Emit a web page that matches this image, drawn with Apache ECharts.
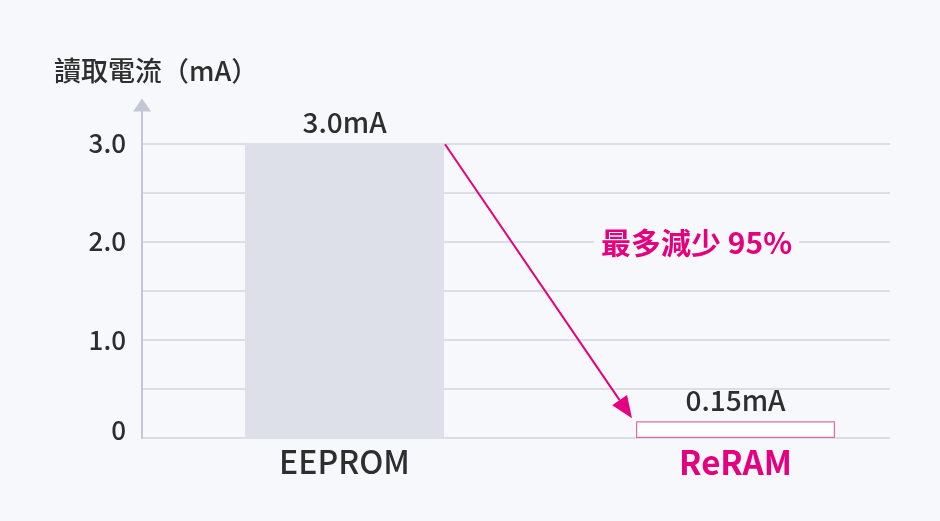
<!DOCTYPE html>
<html><head><meta charset="utf-8">
<script src="https://cdn.jsdelivr.net/npm/echarts@6/dist/echarts.min.js"></script>
<style>html,body{margin:0;padding:0;background:#f7f8fb;}#c{width:940px;height:521px;}</style>
</head><body><div id="c"></div>
<script>
var categories = ['EEPROM', 'ReRAM'];
var values = [3.0, 0.17];
var valueLabels = ['3.0mA', '0.15mA'];
var yTicks = [0, 0.5, 1.0, 1.5, 2.0, 2.5, 3.0];
var yTickLabels = {'0': '0', '1': '1.0', '2': '2.0', '3': '3.0'};
var axisTitle = '讀取電流（mA）';
var noteText = '最多減少 95%';
var noteAtValue = 2.0;

var FONT = '"Noto Sans CJK TC","Noto Sans",sans-serif';
var MAG = '#e4007f';
var TXT = '#2e2e2e';
var chart = echarts.init(document.getElementById('c'));
var yMax = 3.4;
var gridTop = 104, gridBottom = 83;
chart.setOption({
  backgroundColor: '#f7f8fb',
  animation: false,
  title: { text: axisTitle, left: 49, top: 52, textStyle: { fontFamily: FONT, fontSize: 27, fontWeight: 500, color: TXT } },
  grid: [
    { left: 142, right: 50, top: gridTop, bottom: gridBottom },
    { left: 149, right: 9, top: gridTop, bottom: gridBottom }
  ],
  xAxis: [
    { gridIndex: 0, type: 'category', data: categories, show: false },
    { gridIndex: 1, type: 'category', data: categories,
      axisLine: { show: false }, axisTick: { show: false },
      axisLabel: { margin: 8, fontFamily: FONT, fontSize: 32,
        formatter: function (v) { return v === 'ReRAM' ? '{r|' + v + '}' : '{n|' + v + '}'; },
        rich: { n: { fontFamily: FONT, fontSize: 32, fontWeight: 500, color: TXT }, r: { fontFamily: FONT, fontSize: 33, color: MAG, fontWeight: 'bold' } } } }
  ],
  yAxis: [
    { gridIndex: 0, type: 'value', min: 0, max: yMax, interval: 0.5,
      axisLine: { show: true, lineStyle: { color: '#c3c7d4', width: 2 }, symbol: ['none', 'triangle'], symbolSize: [18, 13], symbolOffset: [0, -1] },
      axisTick: { show: false },
      splitLine: { show: true, showMaxLine: false, lineStyle: { color: '#d3d6df', width: 1.5 } },
      axisLabel: { showMaxLabel: false, margin: 16, fontFamily: FONT, fontSize: 26, fontWeight: 500, color: TXT,
        formatter: function (v) {
          var k = String(Math.round(v * 100) / 100);
          if (!(k in yTickLabels)) return '';
          return v === 0 ? '{z|0}' : yTickLabels[k];
        },
        rich: { z: { fontFamily: FONT, fontSize: 26, fontWeight: 500, color: TXT, padding: [0, 0, 16, 0] } } } },
    { gridIndex: 1, type: 'value', min: 0, max: yMax, show: false, splitLine: { show: false } }
  ],
  series: [{
    type: 'bar', xAxisIndex: 1, yAxisIndex: 1, barWidth: 199,
    data: values.map(function (v, i) {
      return { value: v, itemStyle: i === 0 ? { color: '#dde0e8' } : { color: '#ffffff', borderColor: '#e46aa8', borderWidth: 1.2 } };
    }),
    label: { show: true, position: 'top', distance: 7, fontFamily: FONT, fontSize: 28, fontWeight: 500, color: TXT,
      formatter: function (p) { return valueLabels[p.dataIndex]; } }
  }]
});

// annotation arrow from EEPROM bar top-right to ReRAM bar top-left
var halfBar = 199 / 2;
var p0 = chart.convertToPixel({ xAxisIndex: 1, yAxisIndex: 1 }, [0, values[0]]);
var p1 = chart.convertToPixel({ xAxisIndex: 1, yAxisIndex: 1 }, [1, values[1]]);
var sx = p0[0] + halfBar + 1, sy = p0[1] + 1;
var ex = p1[0] - halfBar - 4, ey = p1[1] - 3;
var ang = Math.atan2(ey - sy, ex - sx);
var hl = 22, hw = 9;
var bx = ex - hl * Math.cos(ang), by = ey - hl * Math.sin(ang);
var nx = -Math.sin(ang), ny = Math.cos(ang);
var pNote = chart.convertToPixel({ xAxisIndex: 1, yAxisIndex: 1 }, [1, noteAtValue]);
chart.setOption({
  graphic: [
    { type: 'line', shape: { x1: sx, y1: sy, x2: bx, y2: by }, style: { stroke: MAG, lineWidth: 2 } },
    { type: 'polygon', shape: { points: [[ex, ey], [bx + nx * hw, by + ny * hw], [bx - nx * hw, by - ny * hw]] }, style: { fill: MAG } },
    { type: 'text', x: pNote[0] - 39, y: pNote[1] + 1, style: {
      text: noteText, fontFamily: FONT, fontSize: 30, fontWeight: 'bold', fill: MAG,
      align: 'center', verticalAlign: 'middle', backgroundColor: '#f7f8fb', padding: [2, 7] } }
  ]
});
</script></body></html>
